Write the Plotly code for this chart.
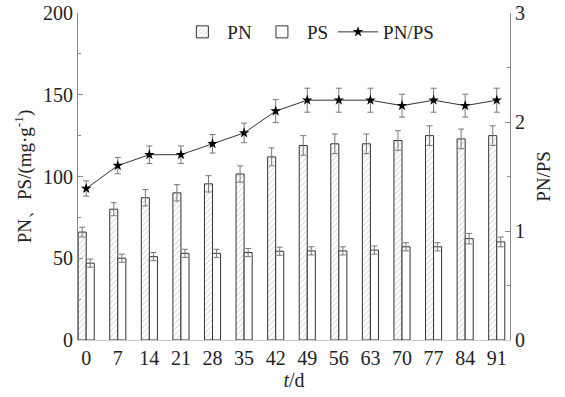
import plotly.graph_objects as go

days = ["0", "7", "14", "21", "28", "35", "42", "49", "56", "63", "70", "77", "84", "91"]
pn = [66, 80, 87, 90, 95.5, 101.5, 112, 119, 120, 120, 122, 125, 123, 125]
pn_err = [3, 4, 5, 5, 5, 5, 5.5, 6, 6, 6, 6, 6, 6, 6]
ps = [47, 50, 51, 53, 53, 53.5, 54.3, 54.5, 54.5, 55, 57, 57, 62, 60]
ps_err = [2.5, 2.5, 2.5, 2.5, 2.5, 2.5, 2.5, 2.5, 2.5, 2.5, 2.5, 2.5, 3.2, 3]
ratio = [1.39, 1.60, 1.70, 1.70, 1.80, 1.90, 2.10, 2.20, 2.20, 2.20, 2.15, 2.20, 2.15, 2.20]
ratio_err = [0.07, 0.075, 0.08, 0.08, 0.085, 0.09, 0.105, 0.11, 0.11, 0.11, 0.105, 0.11, 0.105, 0.11]

FONT = "Liberation Serif, Times New Roman, serif"
AX = "#8a8a8a"
EB = "#777777"

fig = go.Figure()
fig.add_trace(go.Bar(
    x=days, y=pn, name="PN",
    marker=dict(color="white", line=dict(color="#333333", width=1),
                pattern=dict(shape="/", fgcolor="#555555", bgcolor="white", size=4, solidity=0.15)),
    error_y=dict(type="data", array=pn_err, color=EB, thickness=1, width=3),
))
fig.add_trace(go.Bar(
    x=days, y=ps, name="PS",
    marker=dict(color="white", line=dict(color="#333333", width=1)),
    error_y=dict(type="data", array=ps_err, color=EB, thickness=1, width=3),
))
fig.add_trace(go.Scatter(
    x=days, y=ratio, name="PN/PS", yaxis="y2", mode="lines+markers",
    line=dict(color="#333333", width=1),
    marker=dict(symbol="star", size=8, color="black"),
    error_y=dict(type="data", array=ratio_err, color=EB, thickness=1, width=3),
))

fig.update_layout(
    width=565, height=397,
    margin=dict(l=78, r=55, t=13, b=57, autoexpand=False),
    paper_bgcolor="white", plot_bgcolor="white",
    font=dict(family=FONT, size=20, color="#222222"),
    barmode="group", bargap=0.49, bargroupgap=0,
    showlegend=True,
    legend=dict(orientation="h", x=0.23, y=1.0, xanchor="left", yanchor="top",
                font=dict(size=19), bgcolor="rgba(0,0,0,0)", itemwidth=40,
                traceorder="normal"),
    xaxis=dict(type="category", range=[-0.26, 13.42], showline=True, linecolor="#cccccc",
               linewidth=1, ticks="", showgrid=False, zeroline=False, automargin=False,
               tickfont=dict(size=20),
               title=dict(text="<i>t</i>/d", font=dict(size=20), standoff=4)),
    yaxis=dict(range=[0, 200], dtick=50, showline=True, linecolor=AX, linewidth=1,
               ticks="inside", ticklen=5, tickcolor=AX, showgrid=False, zeroline=False,
               automargin=False,
               minor=dict(ticks="inside", ticklen=3, dtick=25, tickcolor=AX),
               tickfont=dict(size=20),
               title=dict(text="PN、PS/(mg·g<sup>-1</sup>)", font=dict(size=19), standoff=6)),
    yaxis2=dict(range=[0, 3], dtick=1, overlaying="y", side="right", showline=True,
                linecolor=AX, linewidth=1, ticks="inside", ticklen=5, tickcolor=AX,
                showgrid=False, zeroline=False, automargin=False,
                minor=dict(ticks="inside", ticklen=3, dtick=0.5, tickcolor=AX),
                tickfont=dict(size=20),
                title=dict(text="PN/PS", font=dict(size=19), standoff=12)),
)

fig.write_html("out.html")
